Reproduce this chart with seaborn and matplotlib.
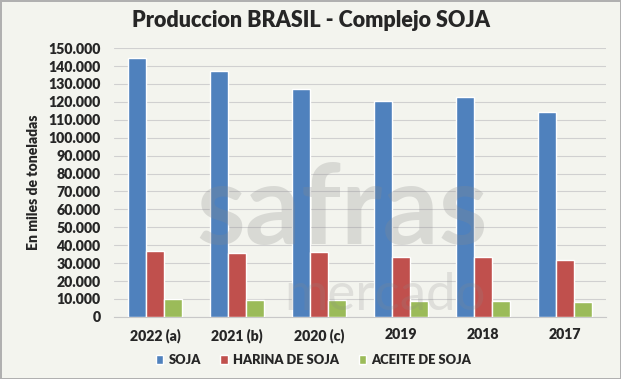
import matplotlib
matplotlib.use("Agg")
import matplotlib.pyplot as plt
import seaborn as sns
import pandas as pd
from matplotlib.ticker import FuncFormatter, MultipleLocator

# datos (miles de toneladas)
anios = ["2022 (a)", "2021 (b)", "2020 (c)", "2019", "2018", "2017"]
soja = [144400, 137000, 127300, 120600, 122700, 114500]
harina = [36500, 35800, 36100, 33300, 33300, 31500]
aceite = [9700, 9400, 9400, 8600, 8600, 8200]
productos = ["SOJA", "HARINA DE SOJA", "ACEITE DE SOJA"]
colores = ["#4F81BD", "#C0504D", "#9BBB59"]

df = pd.DataFrame({"anio": anios, productos[0]: soja,
                   productos[1]: harina, productos[2]: aceite})
df = df.melt(id_vars="anio", var_name="producto", value_name="valor")

sns.set_style("white")
plt.rcParams["font.family"] = ["Lato", "DejaVu Sans"]

fig = plt.figure(figsize=(6.21, 3.79), dpi=100)
fig.patch.set_facecolor("#f3f4ee")
ax = fig.add_axes([0.184, 0.164, 0.792, 0.709])
ax.set_facecolor("none")

# marca de agua
fig.text(0.55, 0.44, "safras", fontsize=80, fontweight="bold", color="#8a8a8a",
         alpha=0.25, ha="center", va="center", zorder=0)
fig.text(0.62, 0.22, "mercado", fontsize=38, color="#8a8a8a",
         alpha=0.2, ha="center", va="center", zorder=0)

sns.barplot(data=df, x="anio", y="valor", hue="producto", palette=colores,
            width=0.66, saturation=1, ax=ax, zorder=3)

ax.set_ylim(0, 150000)
ax.yaxis.set_major_locator(MultipleLocator(10000))
ax.yaxis.set_major_formatter(FuncFormatter(lambda v, p: f"{int(v):,}".replace(",", ".")))
ax.grid(axis="y", color="#d0d0d0", linewidth=0.8, zorder=0)
ax.set_axisbelow(True)
for s in ["top", "right", "left"]:
    ax.spines[s].set_visible(False)
ax.spines["bottom"].set_color("#c8c8c8")

ax.tick_params(axis="y", length=0, labelsize=10.2, pad=10)
ax.tick_params(axis="x", length=0, labelsize=10.2, pad=8)
for lbl in ax.get_xticklabels() + ax.get_yticklabels():
    lbl.set_fontweight("heavy")
ax.set_xlabel("")
ax.set_ylabel("En miles de toneladas", fontsize=10, fontweight="heavy", labelpad=6)

fig.text(0.5, 0.947, "Produccion BRASIL - Complejo SOJA", fontsize=15.5,
         fontweight="heavy", ha="center", va="center")

ax.legend_.remove()
handles, labels = ax.get_legend_handles_labels()
fig.legend(handles, labels, loc="center", bbox_to_anchor=(0.505, 0.05), ncol=3,
           frameon=False, prop={"weight": "heavy", "size": 9.3},
           handlelength=0.6, handleheight=0.6, handletextpad=0.4, columnspacing=1.5)

fig.patch.set_edgecolor("#b0b0b0")
fig.patch.set_linewidth(2)

fig.savefig("out.png", dpi=100, facecolor=fig.get_facecolor(), edgecolor=fig.get_edgecolor())
